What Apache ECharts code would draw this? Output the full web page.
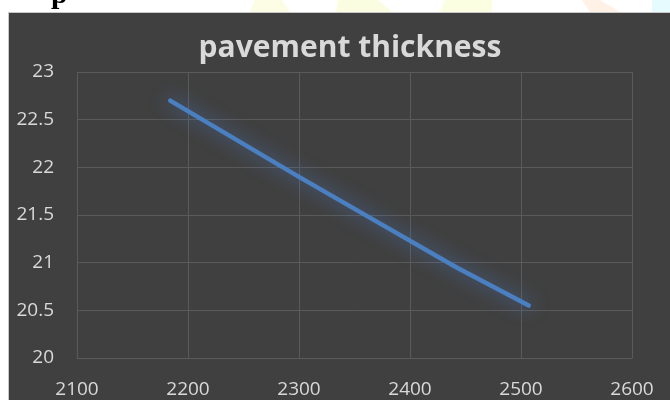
<!DOCTYPE html>
<html>
<head>
<meta charset="utf-8">
<script src="https://cdn.jsdelivr.net/npm/echarts@6/dist/echarts.min.js"></script>
<style>
  html, body { margin: 0; padding: 0; background: #fff; }
  #main { width: 670px; height: 400px; }
</style>
</head>
<body>
<div id="main"></div>
<script>
// values
const titleText = 'pavement thickness'
const xValues = [2184, 2300, 2370, 2442, 2507]
const yValues = [22.70, 21.90, 21.43, 20.95, 20.55]
const xTicks = { min: 2100, max: 2600, interval: 100 }
const yTicks = { min: 20, max: 23, interval: 0.5 }

const chart = echarts.init(document.getElementById('main'), null, {
	width: 670,
	height: 400,
})

const gridColor = '#5a5a5a'
const labelColor = '#d9d9d9'
const font = 'Open Sans'

const options = {
	backgroundColor: '#ffffff',
	animation: false,
	graphic: [
		// dark chart panel
		{
			type: 'rect',
			z: -10,
			shape: { x: 8.5, y: 12.5, width: 670, height: 400 },
			style: { fill: '#404040', stroke: '#c8c8c8', lineWidth: 1 },
		},
		// bits of the page above the chart
		{
			type: 'polygon', z: -11,
			shape: { points: [[255, 0], [282, 0], [290, 12], [250, 12]] },
			style: { fill: '#fdfde6' },
		},
		{
			type: 'polygon', z: -11,
			shape: { points: [[338, 0], [378, 0], [392, 12], [336, 12]] },
			style: { fill: '#fbfde0' },
		},
		{
			type: 'polygon', z: -11,
			shape: { points: [[445, 0], [492, 0], [492, 12], [440, 12]] },
			style: { fill: '#fcfee2' },
		},
		{
			type: 'polygon', z: -11,
			shape: { points: [[582, 0], [600, 0], [620, 12], [590, 12]] },
			style: { fill: '#fff1e6' },
		},
		{
			type: 'rect', z: -11,
			shape: { x: 652, y: 0, width: 18, height: 12 },
			style: { fill: '#e6fbfd' },
		},
		{
			type: 'text', z: -11,
			left: 51, top: -20,
			style: { text: 'p', fill: '#000', font: 'bold 30px "Liberation Serif"' },
		},
	],
	title: {
		text: titleText,
		left: 345,
		top: 28,
		textAlign: 'center',
		textStyle: {
			color: labelColor,
			fontFamily: font,
			fontWeight: 'bold',
			fontSize: 30,
		},
	},
	grid: {
		left: 77,
		right: 38,
		top: 72,
		bottom: 42,
	},
	xAxis: {
		type: 'value',
		min: xTicks.min,
		max: xTicks.max,
		interval: xTicks.interval,
		axisLine: { show: true, lineStyle: { color: gridColor, width: 1 } },
		axisTick: { show: false },
		splitLine: { show: true, lineStyle: { color: gridColor, width: 1 } },
		axisLabel: {
			color: labelColor,
			fontFamily: font,
			fontSize: 19,
			margin: 22,
			formatter: v => String(v),
		},
	},
	yAxis: {
		type: 'value',
		min: yTicks.min,
		max: yTicks.max,
		interval: yTicks.interval,
		axisLine: { show: true, lineStyle: { color: gridColor, width: 1 } },
		axisTick: { show: false },
		splitLine: { show: true, lineStyle: { color: gridColor, width: 1 } },
		axisLabel: { color: labelColor, fontFamily: font, fontSize: 19, margin: 23 },
	},
	series: [
		{
			type: 'line',
			data: xValues.map((x, i) => [x, yValues[i]]),
			showSymbol: false,
			symbol: 'none',
			lineStyle: {
				color: '#4a7fc1',
				width: 4.5,
				cap: 'round',
				join: 'round',
				shadowColor: 'rgba(80, 140, 230, 0.7)',
				shadowBlur: 18,
			},
		},
	],
}
chart.setOption(options)
</script>
</body>
</html>
